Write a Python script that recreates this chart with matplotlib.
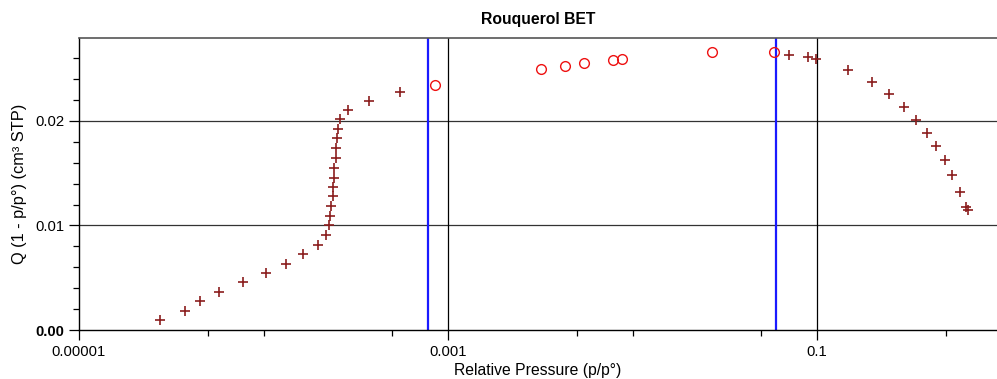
import matplotlib.pyplot as plt
import numpy as np
from matplotlib.ticker import FixedLocator, NullFormatter

plt.rcParams['font.family'] = ['Liberation Sans', 'DejaVu Sans']

# points outside the chosen range (crosses)
excluded_p = [2.76e-5, 3.75e-5, 4.51e-5, 5.74e-5, 7.75e-5, 1.03e-4, 1.32e-4,
              1.63e-4, 1.98e-4, 2.17e-4, 2.27e-4, 2.30e-4, 2.33e-4, 2.38e-4,
              2.38e-4, 2.42e-4, 2.42e-4, 2.46e-4, 2.47e-4, 2.51e-4, 2.54e-4,
              2.60e-4, 2.86e-4, 3.73e-4, 5.51e-4,
              0.0702, 0.0889, 0.0991, 0.148, 0.1994, 0.2466, 0.2949, 0.345,
              0.3945, 0.4436, 0.4955, 0.541, 0.593, 0.645, 0.655]
excluded_q = [0.00096, 0.00182, 0.00278, 0.00367, 0.00459, 0.00549, 0.00632,
              0.00724, 0.00817, 0.00909, 0.01005, 0.01091, 0.01187, 0.01282,
              0.01371, 0.01458, 0.01553, 0.01649, 0.01742, 0.01834, 0.01920,
              0.02016, 0.02102, 0.02195, 0.02278,
              0.02632, 0.02612, 0.02596, 0.02491, 0.02370, 0.02255, 0.02134,
              0.02007, 0.01888, 0.01758, 0.01624, 0.01483, 0.01324, 0.0118,
              0.0115]

# points used for the fit (circles)
selected_p = [8.53e-4, 3.18e-3, 4.33e-3, 5.44e-3, 7.84e-3, 8.81e-3, 0.0271, 0.0585]
selected_q = [0.02348, 0.02498, 0.02530, 0.02552, 0.02584, 0.02593, 0.02663, 0.02657]

range_limits = [7.8e-4, 0.060]

x_major = [1e-5, 1e-3, 1e-1]
x_major_labels = ['0.00001', '0.001', '0.1']
x_minor = [5e-5, 1e-4, 5e-4, 5e-3, 1e-2, 5e-2, 0.5]
y_major = [0.0, 0.01, 0.02]
y_major_labels = ['0.00', '0.01', '0.02']

fig = plt.figure(figsize=(9.97, 3.79), dpi=100)
ax = fig.add_axes([79 / 997, 1 - 330 / 379, 1 - 79 / 997, (330 - 37.7) / 379])

ax.set_xscale('log')
ax.set_xlim(1e-5, 10 ** (-5 + 918 / 184.5))
ax.set_ylim(0, 0.02797)

# grid lines
for yv in y_major[1:]:
    ax.axhline(yv, color='#333333', lw=0.9, zorder=1)
for xv in x_major[1:]:
    ax.axvline(xv, color='black', lw=0.9, zorder=1)

for xv in range_limits:
    ax.axvline(xv, color='#1a1aff', lw=1.6, zorder=2)

ax.plot(excluded_p, excluded_q, linestyle='none', marker='+', markersize=7.2,
        markeredgewidth=1.2, color='#8b1e1e', zorder=3)
ax.plot(selected_p, selected_q, linestyle='none', marker='o', markersize=7,
        markerfacecolor='none', markeredgewidth=1.0, markeredgecolor='#ee1111',
        zorder=3)

ax.xaxis.set_major_locator(FixedLocator(x_major))
ax.set_xticklabels(x_major_labels)
ax.xaxis.set_minor_locator(FixedLocator(x_minor))
ax.xaxis.set_minor_formatter(NullFormatter())
ax.yaxis.set_major_locator(FixedLocator(y_major))
ax.set_yticklabels(y_major_labels)
ax.yaxis.set_minor_locator(FixedLocator(np.arange(0.002, 0.028, 0.002)))

ax.tick_params(which='major', direction='out', length=7, width=0.9,
               labelsize=10.6, colors='black')
ax.tick_params(which='minor', direction='out', length=4.3, width=0.9)
ax.get_yticklabels()[0].set_fontweight('bold')

ax.spines['right'].set_visible(False)
ax.spines['top'].set_color('#555555')
ax.spines['top'].set_linewidth(1.2)
for s in ['left', 'bottom']:
    ax.spines[s].set_linewidth(1.0)

ax.set_xlabel('Relative Pressure (p/p°)', fontsize=11.3, labelpad=3)
ax.set_ylabel('Q (1 - p/p°) (cm³ STP)', fontsize=11.8, labelpad=6)
ax.set_title('Rouquerol BET', fontsize=11.3, fontweight='bold', pad=10)

fig.savefig('out.png', dpi=100)
